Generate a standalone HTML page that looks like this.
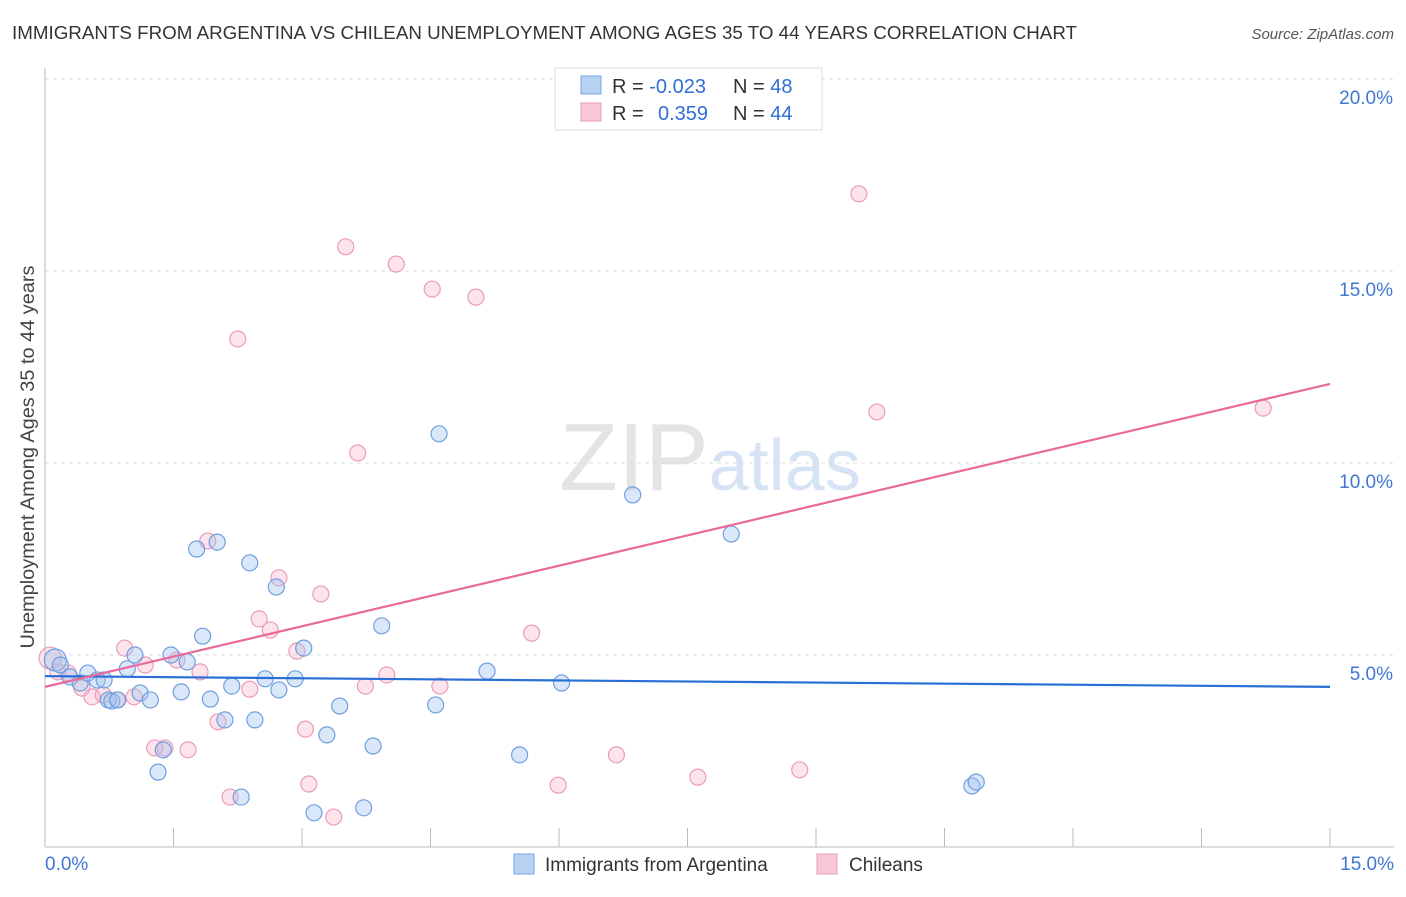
<!DOCTYPE html>
<html><head><meta charset="utf-8"><style>
body{margin:0;background:#fff;font-family:"Liberation Sans",sans-serif}
svg text{font-family:"Liberation Sans",sans-serif}
</style></head><body>
<svg id="chart" width="1406" height="892" xmlns="http://www.w3.org/2000/svg">
<text x="12" y="39" font-size="18" fill="#333" textLength="1065" lengthAdjust="spacingAndGlyphs">IMMIGRANTS FROM ARGENTINA VS CHILEAN UNEMPLOYMENT AMONG AGES 35 TO 44 YEARS CORRELATION CHART</text>
<text x="1394" y="39" font-size="15" fill="#555" text-anchor="end" font-style="italic">Source: ZipAtlas.com</text>
<text x="710" y="490" font-size="96" fill="#e4e4e4" text-anchor="middle" font-family="Liberation Serif">ZIP<tspan fill="#d6e3f5" font-family="Liberation Sans" font-size="72">atlas</tspan></text>
<g id="grid"></g>
<g id="axes"></g>
<g id="marks"></g>
<text transform="translate(34,457) rotate(-90)" font-size="19" fill="#444" text-anchor="middle" textLength="383" lengthAdjust="spacingAndGlyphs">Unemployment Among Ages 35 to 44 years</text>
<g>
<rect x="555" y="68" width="267" height="62" fill="#fff" stroke="#ddd"/>
<rect x="581" y="76" width="20" height="18" fill="#b8d2f4" stroke="#7aa6e4"/>
<rect x="581" y="103" width="20" height="18" fill="#f8c8d8" stroke="#ea9cb8"/>
<text x="612" y="93" font-size="20" fill="#333">R = <tspan fill="#2f6fd6">-0.023</tspan></text>
<text x="733" y="93" font-size="20" fill="#333">N = <tspan fill="#2f6fd6">48</tspan></text>
<text x="612" y="120" font-size="20" fill="#333">R = <tspan fill="#2f6fd6" x="658">0.359</tspan></text>
<text x="733" y="120" font-size="20" fill="#333">N = <tspan fill="#2f6fd6">44</tspan></text>
</g>
<g>
<rect x="514" y="854" width="20" height="20" fill="#b8d2f4" stroke="#7aa6e4"/>
<text x="545" y="871" font-size="19" fill="#333">Immigrants from Argentina</text>
<rect x="817" y="854" width="20" height="20" fill="#f8c8d8" stroke="#ea9cb8"/>
<text x="849" y="871" font-size="19" fill="#333">Chileans</text>
</g>
</svg>
<script>
const xTicks=[0,1.5,3,4.5,6,7.5,9,10.5,12,13.5,15];
const yTicks=[5,10,15,20];
const yTickLabels=["5.0%","10.0%","15.0%","20.0%"];
const xTickLabels=["0.0%","15.0%"];
const blueX=[0.12,0.18,0.29,0.41,0.50,0.61,0.69,0.74,0.78,0.85,0.96,1.05,1.11,1.23,1.32,1.38,1.47,1.59,1.66,1.77,1.84,1.93,2.01,2.10,2.18,2.29,2.39,2.45,2.57,2.70,2.73,2.92,3.02,3.14,3.29,3.44,3.72,3.83,3.93,4.56,4.60,5.16,5.54,6.03,6.86,8.01,10.82,10.87];
const blueY=[4.87,4.74,4.43,4.27,4.53,4.35,4.35,3.83,3.80,3.83,4.64,5.00,4.01,3.83,1.95,2.53,5.00,4.04,4.82,7.76,5.49,3.85,7.94,3.31,4.19,1.30,7.40,3.31,4.38,6.77,4.09,4.38,5.18,0.89,2.92,3.67,1.02,2.63,5.76,3.70,10.76,4.58,2.40,4.27,9.17,8.15,1.59,1.69];
const pinkX=[0.06,0.15,0.27,0.43,0.55,0.68,0.84,0.93,1.04,1.17,1.28,1.40,1.54,1.67,1.81,1.90,2.02,2.16,2.25,2.39,2.50,2.63,2.73,2.94,3.04,3.08,3.22,3.37,3.51,3.65,3.74,3.99,4.10,4.52,4.61,5.03,5.68,5.99,6.67,7.62,8.81,9.50,9.71,14.22];
const pinkY=[4.92,4.56,4.53,4.14,3.91,3.96,3.83,5.18,3.91,4.74,2.58,2.58,4.87,2.53,4.56,7.97,3.26,1.30,13.23,4.11,5.94,5.65,7.01,5.10,3.07,1.64,6.59,0.78,15.63,10.26,4.19,4.48,15.18,14.53,4.19,14.32,5.57,1.61,2.40,1.82,2.01,17.01,11.33,11.43];
const blueTrend=[4.45,4.17];
const pinkTrend=[4.17,12.06];
const X=v=>45+v/15*1285, Y=v=>847-v/5*192;
const NS="http://www.w3.org/2000/svg";
function mk(t,a,p){const e=document.createElementNS(NS,t);for(const k in a)e.setAttribute(k,a[k]);p.appendChild(e);return e;}
const grid=document.getElementById('grid'),axes=document.getElementById('axes'),marks=document.getElementById('marks');
yTicks.forEach((v,i)=>{
 const l=mk('line',{x1:45,x2:1394,y1:Y(v),y2:Y(v),stroke:'#ddd','stroke-dasharray':'4,4'},grid);
 
 
 const t=mk('text',{x:1393,y:Y(v)+25,'font-size':19,fill:'#3f77d0','text-anchor':'end'},axes);
 t.textContent=yTickLabels[i];
 
 
});
const ax=mk('line',{x1:45,x2:1394,y1:847,y2:847,stroke:'#bbb'},axes);


const ay=mk('line',{x1:45,x2:45,y1:68,y2:847,stroke:'#bbb'},axes);


xTicks.forEach(v=>{
 const l=mk('line',{x1:X(v),x2:X(v),y1:828,y2:847,stroke:'#bbb'},axes);
 
 
});
const t0=mk('text',{x:45,y:870,'font-size':19,fill:'#3f77d0'},axes);t0.textContent=xTickLabels[0];


const t1=mk('text',{x:1394,y:870,'font-size':19,fill:'#3f77d0','text-anchor':'end'},axes);t1.textContent=xTickLabels[1];


pinkX.forEach((x,i)=>{
 const c=mk('circle',{cx:X(x),cy:Y(pinkY[i]),r:i==0?11:8,fill:'rgba(245,175,200,0.35)',stroke:'#ea9cb8','stroke-width':1.2},marks);
 
 
});
blueX.forEach((x,i)=>{
 const c=mk('circle',{cx:X(x),cy:Y(blueY[i]),r:i==0?11:8,fill:'rgba(160,196,240,0.4)',stroke:'#6f9fe0','stroke-width':1.2},marks);
 
 
});
const bl=mk('line',{x1:X(0),x2:X(15),y1:Y(blueTrend[0]),y2:Y(blueTrend[1]),stroke:'#2a6fd6','stroke-width':2.2},marks);


const pl=mk('line',{x1:X(0),x2:X(15),y1:Y(pinkTrend[0]),y2:Y(pinkTrend[1]),stroke:'#e8699a','stroke-width':2.2},marks);


</script>
</body></html>
